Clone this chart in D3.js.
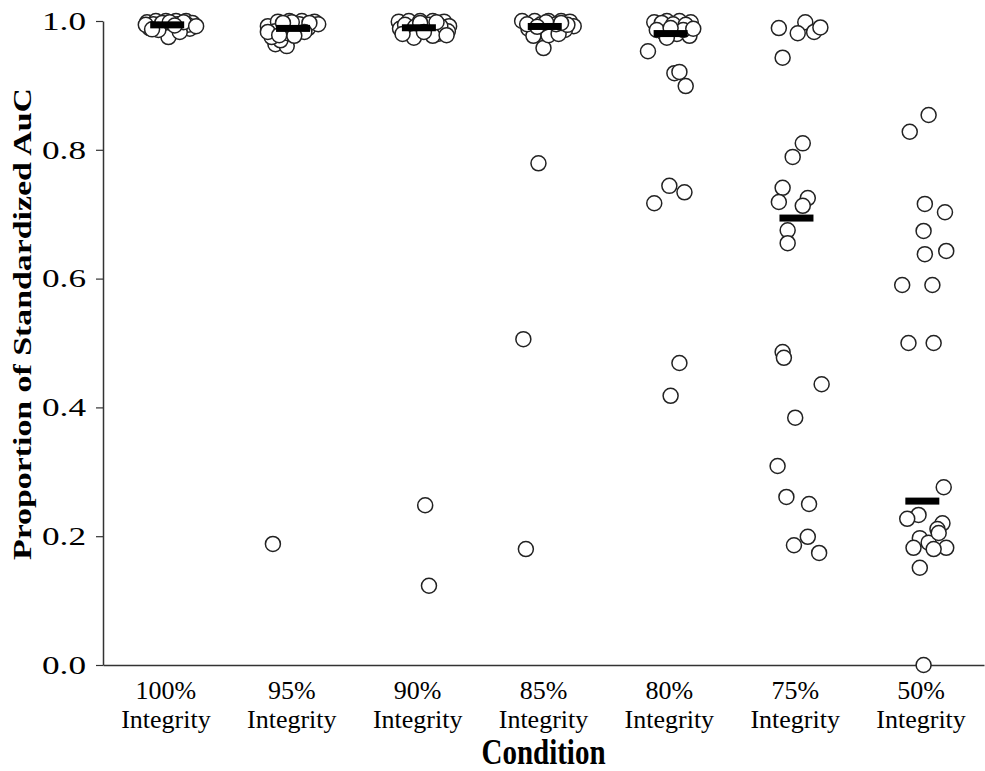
<!DOCTYPE html>
<html>
<head>
<meta charset="utf-8">
<script src="https://cdn.jsdelivr.net/npm/d3@7"></script>
<style>
  html, body { margin: 0; padding: 0; background: #fff; }
  svg { display: block; }
  text { font-family: "Liberation Serif", "Times New Roman", serif; fill: #000; }
</style>
</head>
<body>
<svg id="chart" width="985" height="771"></svg>
<script>
// ---------- data ----------
const categories = ["100%", "95%", "90%", "85%", "80%", "75%", "50%"];
const categorySubLabel = "Integrity";
const yTicks = [0.0, 0.2, 0.4, 0.6, 0.8, 1.0];
const xTitle = "Condition";
const yTitle = "Proportion of Standardized AuC";

const values100 = [0.998,1.0,1.0,1.0,1.0,0.997,0.989,0.991,0.988,0.991,0.988,0.975,0.995,0.997,0.995,0.994,0.986,0.983,0.994,0.998,0.998,0.992,0.987,0.993];
const jitter100 = [-0.15,-0.08,0,0.08,0.16,0.21,-0.13,-0.05,0.05,0.13,0.19,0.02,-0.10,-0.03,0.09,0.17,-0.06,0.11,-0.16,0.03,0.14,0.24,-0.11,0.07];

const values95 = [0.188,0.964,0.961,0.970,0.975,0.992,0.999,1.0,1.0,0.999,0.991,0.988,0.989,0.995,0.984,0.981,0.995,0.997,0.998,0.997,0.983,0.983,0.977,0.978];
const jitter95 = [-0.15,-0.13,-0.04,-0.09,-0.16,-0.19,-0.11,-0.02,0.08,0.18,-0.06,0.03,0.13,0.21,-0.13,-0.03,0.06,0.14,0,-0.07,-0.19,0.10,0.02,-0.10];

const values90 = [0.248,0.123,0.999,1.0,1.0,1.0,0.999,0.992,0.988,0.981,0.986,0.980,0.984,0.994,0.991,0.994,0.992,0.974,0.977,0.980,0.997,0.998,0.978,0.983];
const jitter90 = [0.06,0.09,-0.15,-0.07,0.02,0.12,0.21,0.25,-0.14,-0.05,0.06,0.16,0.24,-0.10,-0.02,0.09,0.18,-0.03,0.12,-0.12,0.02,0.15,0.23,0.05];

const values85 = [0.958,0.779,0.506,0.180,1.0,1.0,1.0,1.0,0.999,0.992,0.988,0.984,0.988,0.986,0.977,0.978,0.980,0.995,0.995,0.995,0.994,0.998,0.991,0.997];
const jitter85 = [0.0,-0.04,-0.16,-0.14,-0.17,-0.07,0.04,0.14,0.21,0.24,-0.12,-0.02,0.07,0.17,-0.08,0.04,0.12,-0.13,-0.02,0.10,0.19,0.02,-0.05,0.14];

const values80 = [0.953,0.919,0.921,0.899,0.717,0.744,0.734,0.469,0.418,0.998,1.0,1.0,0.998,0.997,0.995,0.994,0.981,0.980,0.977,0.974,0.986,0.986,0.989,0.988];
const jitter80 = [-0.17,0.04,0.08,0.13,-0.12,0.0,0.12,0.08,0.01,-0.12,-0.02,0.08,0.17,-0.06,0.03,0.13,-0.04,0.06,0.16,-0.02,-0.10,0.11,0.01,0.19];

const values75 = [0.989,0.998,0.981,0.983,0.990,0.943,0.810,0.789,0.741,0.719,0.725,0.713,0.675,0.655,0.486,0.477,0.436,0.384,0.309,0.261,0.250,0.186,0.199,0.174];
const jitter75 = [-0.13,0.08,0.02,0.15,0.20,-0.10,0.06,-0.02,-0.10,-0.13,0.10,0.06,-0.06,-0.06,-0.10,-0.09,0.21,0.0,-0.14,-0.07,0.11,-0.01,0.10,0.19];

const values50 = [0.854,0.828,0.716,0.703,0.674,0.638,0.643,0.590,0.590,0.500,0.500,0.276,0.233,0.227,0.220,0.211,0.197,0.190,0.182,0.182,0.180,0.151,0.0,0.205];
const jitter50 = [0.06,-0.09,0.03,0.19,0.02,0.03,0.20,-0.15,0.09,-0.10,0.10,0.18,-0.02,-0.11,0.17,0.13,-0.01,0.06,-0.06,0.20,0.10,-0.01,0.02,0.14];

const seriesValues = [values100, values95, values90, values85, values80, values75, values50];
const seriesJitter = [jitter100, jitter95, jitter90, jitter85, jitter80, jitter75, jitter50];

// ---------- layout ----------
const svg = d3.select("#chart");
const margin = { left: 103, right: 1, top: 21, bottom: 106 };
const W = 985, H = 771;

const x = d3.scaleLinear()
  .domain([-0.5, categories.length - 0.5])
  .range([margin.left, W - margin.right]);
const y = d3.scaleLinear()
  .domain([0, 1])
  .range([H - margin.bottom, margin.top]);

// x axis line (no ticks)
const xAxis = d3.axisBottom(x).tickValues([]).tickSizeOuter(0);
svg.append("g")
  .attr("transform", `translate(0,${y(0)})`)
  .call(xAxis)
  .call(g => g.select(".domain").attr("stroke", "#333").attr("stroke-width", 1.5));

// x category labels: two lines
const xl = svg.append("g");
categories.forEach((c, i) => {
  const t = xl.append("text")
    .attr("text-anchor", "middle")
    .style("font-size", "26px");
  t.append("tspan").attr("x", x(i)).attr("y", 699).text(c);
  t.append("tspan").attr("x", x(i)).attr("y", 728).text(categorySubLabel);
});

// y axis
const yAxis = d3.axisLeft(y)
  .tickValues(yTicks)
  .tickFormat(d3.format(".1f"))
  .tickSize(7)
  .tickSizeOuter(0)
  .tickPadding(10);
svg.append("g")
  .attr("transform", `translate(${margin.left},0)`)
  .call(yAxis)
  .call(g => g.select(".domain").attr("stroke", "#333").attr("stroke-width", 1.5))
  .call(g => g.selectAll(".tick line").attr("stroke", "#333").attr("stroke-width", 1.2))
  .call(g => g.selectAll(".tick text")
    .style("font-family", "'Liberation Serif', serif")
    .style("font-size", "26px")
    .attr("textLength", 44)
    .attr("lengthAdjust", "spacingAndGlyphs")
    .attr("fill", "#000"));

// titles
svg.append("text")
  .attr("transform", `translate(${x(3)},764) scale(1,1.22)`)
  .attr("text-anchor", "middle")
  .style("font-size", "29px")
  .style("font-weight", "bold")
  .text(xTitle);

svg.append("text")
  .attr("transform", `translate(31,${324}) rotate(-90)`)
  .attr("text-anchor", "middle")
  .style("font-size", "26px")
  .style("font-weight", "bold")
  .attr("textLength", 472)
  .attr("lengthAdjust", "spacingAndGlyphs")
  .text(yTitle);

// points
const points = [];
seriesValues.forEach((vals, i) => {
  vals.forEach((v, k) => points.push({ i, v, j: seriesJitter[i][k] }));
});
svg.append("g")
  .selectAll("circle")
  .data(points)
  .join("circle")
  .attr("cx", d => x(d.i + d.j))
  .attr("cy", d => y(d.v))
  .attr("r", 7.5)
  .attr("fill", "#fff")
  .attr("stroke", "#222")
  .attr("stroke-width", 1.5);

// median bars
const medians = seriesValues.map(v => d3.median(v));
const barHalf = 0.135;
svg.append("g")
  .selectAll("rect")
  .data(medians)
  .join("rect")
  .attr("x", (d, i) => x(i + 0.01 - barHalf))
  .attr("width", (d, i) => x(i + barHalf) - x(i - barHalf))
  .attr("y", d => y(d) - 3.5)
  .attr("height", 7)
  .attr("fill", "#000");
</script>
</body>
</html>
